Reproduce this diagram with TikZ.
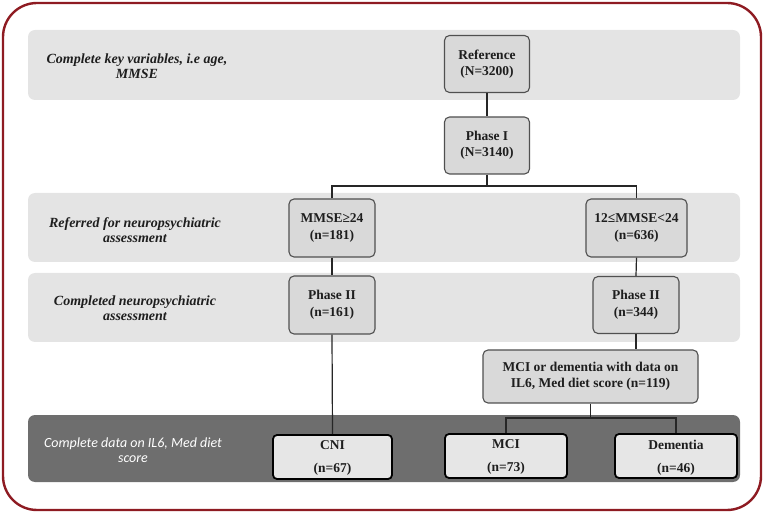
\documentclass[tikz,border=0pt]{standalone}
\usepackage{fontspec}
\setmainfont{Liberation Serif}
\newfontfamily\labsans{Carlito}
\definecolor{framered}{HTML}{8E1B22}
\definecolor{bandgrey}{HTML}{E4E4E4}
\definecolor{darkband}{HTML}{6E6E6E}
\definecolor{boxfill}{HTML}{D9D9D9}
\definecolor{boxline}{HTML}{505050}
\definecolor{lowfill}{HTML}{E6E6E6}
\definecolor{txt}{HTML}{1E1E1E}
\tikzset{
  band/.style={fill=bandgrey, draw=none, rounded corners=7pt},
  darkbandst/.style={fill=darkband, draw=none, rounded corners=7pt},
  flowbox/.style={draw=boxline, fill=boxfill, line width=1.1pt, rounded corners=5pt,
    align=center, inner sep=0pt, text=txt,
    font=\fontsize{13.5}{16.5}\selectfont\bfseries},
  lowbox/.style={draw=black, fill=lowfill, line width=1.8pt, rounded corners=4pt,
    align=center, inner sep=0pt, text=txt,
    font=\fontsize{13.5}{23}\selectfont\bfseries},
  sidelab/.style={align=center, text=txt, inner sep=0pt,
    font=\fontsize{14}{15.5}\selectfont\bfseries\itshape},
  sidelabw/.style={align=center, text=white, inner sep=0pt,
    font=\labsans\fontsize{14}{15}\selectfont\itshape},
  conn/.style={draw=black!85, line width=1.2pt}
}
\begin{document}
\begin{tikzpicture}[x=1pt,y=-1pt]
\useasboundingbox (0,0) rectangle (764,513);
% bands
\path[band] (28,30) rectangle (740,100);
\path[band] (28,193) rectangle (740,262);
\path[band] (28,273) rectangle (740,342);
\path[darkbandst] (28,415) rectangle (740,482);
% side labels
\node[sidelab] (l1) at (137,66) {Complete key variables, i.e age,\\MMSE};
\node[sidelab] (l2) at (135,230) {Referred for neuropsychiatric\\assessment};
\node[sidelab] (l3) at (135,308) {Completed neuropsychiatric\\assessment};
\node[sidelabw] (l4) at (133,450) {Complete data on IL6, Med diet\\score};
% boxes
\node[flowbox, minimum width=85pt, minimum height=57pt] (ref) at (487,64) {Reference\\(N=3200)};
\node[flowbox, minimum width=85pt, minimum height=57pt] (ph1) at (487,145.5) {Phase I\\(N=3140)};
\node[flowbox, minimum width=86pt, minimum height=58pt] (mhi) at (332,228) {MMSE≥24\\(n=181)};
\node[flowbox, minimum width=101pt, minimum height=58pt] (mlo) at (636.5,228) {12≤MMSE<24\\(n=636)};
\node[flowbox, minimum width=86pt, minimum height=58pt] (p2l) at (332,305) {Phase II\\(n=161)};
\node[flowbox, minimum width=86pt, minimum height=57pt] (p2r) at (636,305) {Phase II\\(n=344)};
\node[flowbox, minimum width=215pt, minimum height=53pt] (mcid) at (590.5,376.5) {MCI or dementia with data on\\IL6, Med diet score (n=119)};
\node[lowbox, minimum width=119pt, minimum height=44pt, text depth=-3pt] (cni) at (332.5,457) {CNI\\(n=67)};
\node[lowbox, minimum width=122pt, minimum height=44pt, text depth=-3pt] (mci) at (506,456) {MCI\\(n=73)};
\node[lowbox, minimum width=122pt, minimum height=44pt, text depth=-3pt] (dem) at (676,456) {Dementia\\(n=46)};
% connectors
\coordinate (s1) at (487,186);
\draw[conn] (ref.south) -- (ph1.north);
\draw[conn] (ph1.south) -- (s1);
\draw[conn] (mhi.north) |- (s1) -| (mlo.north);
\draw[conn] (mhi.south) -- (p2l.north);
\draw[conn] (mlo.south) -- (p2r.north);
\draw[conn] (p2l.south) -- (cni.north);
\draw[conn] (p2r.south) -- (p2r.south |- mcid.north);
\coordinate (s2) at (590.5,418);
\draw[conn] (mcid.south) -- (s2);
\draw[conn] (mci.north) |- (s2) -| (dem.north);
% outer frame
\draw[framered, line width=2.4pt, rounded corners=34pt] (3,3) rectangle (761,510);
\end{tikzpicture}
\end{document}
